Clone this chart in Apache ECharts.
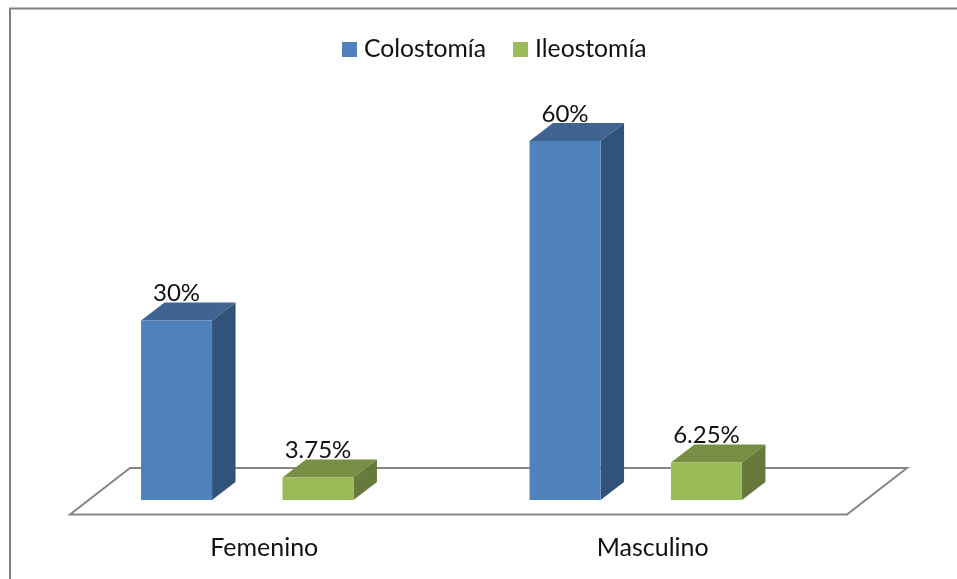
<!DOCTYPE html>
<html lang="es">
<head>
<meta charset="UTF-8">
<title>Colostomía e Ileostomía</title>
<style>
	html, body { margin: 0; padding: 0; background: #fff; }
	#chart { width: 957px; height: 579px; }
</style>
<script src="https://cdn.jsdelivr.net/npm/echarts@6/dist/echarts.min.js"></script>
</head>
<body>
<div id="chart"></div>
<script>
var categories = ['Femenino', 'Masculino'];
var colostomia = [30, 60];
var ileostomia = [3.75, 6.25];

var FONT = 'Lato';
var DEPTH_X = 23.5, DEPTH_Y = 18;   // oblique offset of the bar's back face
var BAR_W = 71;
var SHIFT_X = -17;                  // bars stand behind the front edge of the floor

var chart = echarts.init(document.getElementById('chart'));

function barItem(offset, front, side, top) {
	return function (params, api) {
		var cat = api.value(0), val = api.value(1);
		var band = api.size([1, 0])[0];
		var cx = api.coord([cat, 0])[0] + SHIFT_X + offset * band;
		var y0 = api.coord([cat, 0])[1];
		var y1 = api.coord([cat, val])[1];
		var l = cx - BAR_W / 2, r = cx + BAR_W / 2;
		return {
			type: 'group',
			children: [
				{ type: 'polygon', shape: { points: [[l, y1], [r, y1], [r + DEPTH_X, y1 - DEPTH_Y], [l + DEPTH_X, y1 - DEPTH_Y]] }, style: { fill: top } },
				{ type: 'polygon', shape: { points: [[r, y0], [r + DEPTH_X, y0 - DEPTH_Y], [r + DEPTH_X, y1 - DEPTH_Y], [r, y1]] }, style: { fill: side } },
				{ type: 'rect', shape: { x: l, y: y1, width: BAR_W, height: y0 - y1 }, style: { fill: front } },
				{ type: 'text', z2: 10, style: { x: cx, y: y1 - 27, text: val + '%', fill: '#111', font: '24px ' + FONT, align: 'center', verticalAlign: 'middle' } }
			]
		};
	};
}

function floorItem(params, api) {
	var g = params.coordSys;
	var y = g.y + g.height + 14.5;
	return {
		type: 'polygon',
		shape: { points: [[g.x, y], [g.x + g.width, y], [g.x + g.width + 60, y - 46.5], [g.x + 60, y - 46.5]] },
		style: { fill: '#fff', stroke: '#868686', lineWidth: 2 },
		silent: true
	};
}

function pairs(values) {
	return values.map(function (v, i) { return [i, v]; });
}

chart.setOption({
	animation: false,
	legend: {
		left: 337, top: 32,
		itemWidth: 15, itemHeight: 15, itemGap: 27,
		icon: 'rect',
		textStyle: { fontFamily: FONT, fontSize: 24.7, color: '#111', padding: [0, 0, 0, 2] },
		data: ['Colostomía', 'Ileostomía']
	},
	grid: { left: 70, right: 110, top: 141, bottom: 79 },
	xAxis: {
		type: 'category',
		data: categories,
		axisLine: { show: false },
		axisTick: { show: false },
		axisLabel: { fontFamily: FONT, fontSize: 25, color: '#111', margin: 35 }
	},
	yAxis: { type: 'value', min: 0, max: 60, show: false },
	series: [
		{ name: 'floor', type: 'custom', renderItem: floorItem, data: [[0, 0]], z: 1, silent: true },
		{ name: 'Colostomía', type: 'custom', itemStyle: { color: '#4F81BD' }, data: pairs(colostomia), z: 2, encode: { x: 0, y: 1 },
			renderItem: barItem(-0.182, '#4F81BD', '#325379', '#3F6491') },
		{ name: 'Ileostomía', type: 'custom', itemStyle: { color: '#9BBB59' }, data: pairs(ileostomia), z: 2, encode: { x: 0, y: 1 },
			renderItem: barItem(0.182, '#9BBB59', '#677A3C', '#778F45') }
	],
	graphic: [
		{ type: 'polyline', silent: true, shape: { points: [[10, 579], [10, 8.5], [957, 8.5]] }, style: { fill: null, stroke: '#808080', lineWidth: 2 } }
	]
});
</script>
</body>
</html>
